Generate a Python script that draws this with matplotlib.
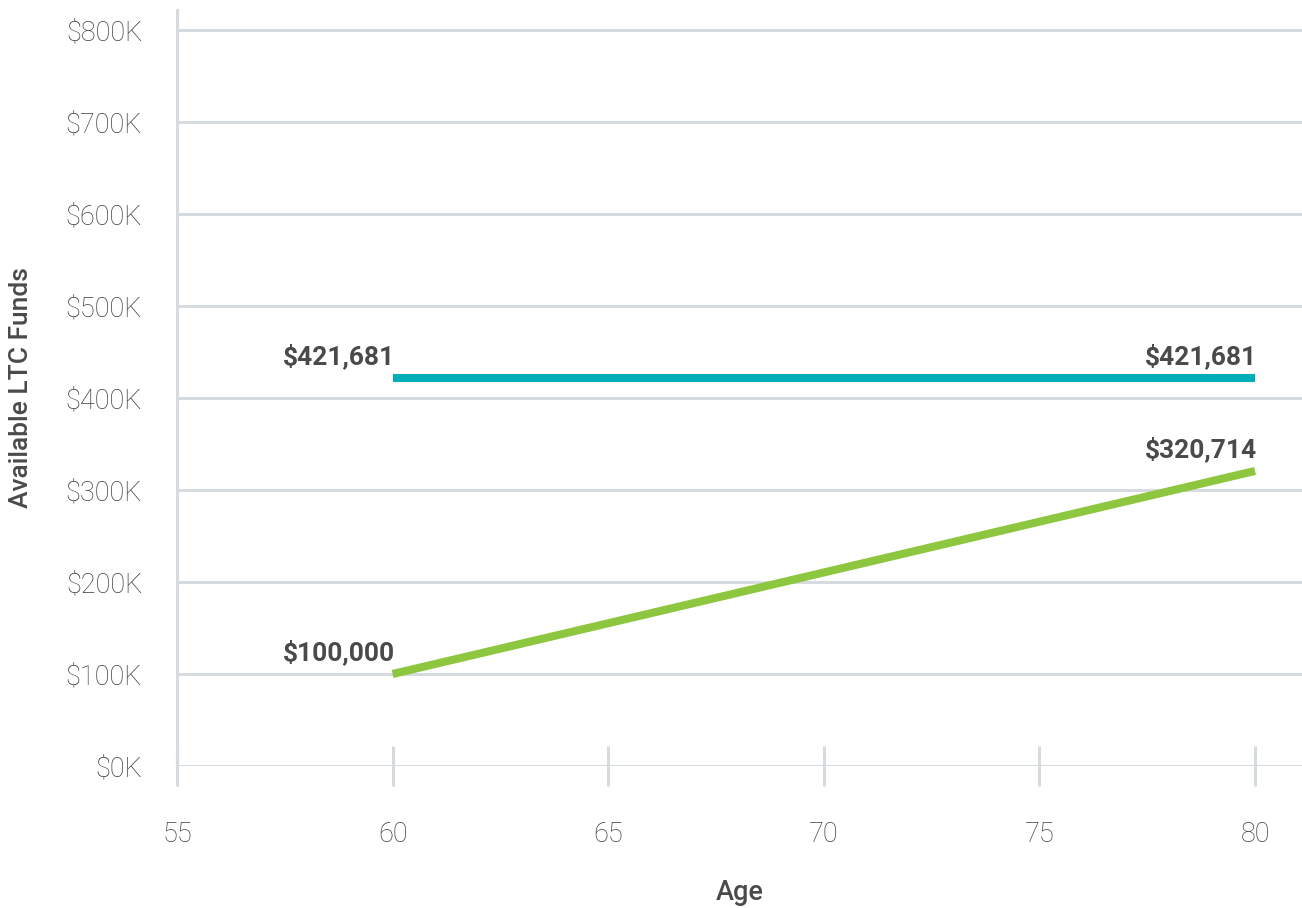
import matplotlib
matplotlib.use("Agg")
import matplotlib.pyplot as plt
from matplotlib.ticker import FuncFormatter

ages = [60, 80]
ltc_policy = [421681, 421681]
self_fund = [100000, 320714]
x_ticks = [55, 60, 65, 70, 75, 80]
y_ticks = [0, 100000, 200000, 300000, 400000, 500000, 600000, 700000, 800000]

teal = "#00AEB8"
green = "#8DC63F"
grid_c = "#D6DBE0"
tick_c = "#3F3F3F"
label_c = "#4A4A4A"

plt.rcParams['font.family'] = ['Roboto', 'DejaVu Sans']

fig = plt.figure(figsize=(13.02, 9.08), dpi=100)
ax = fig.add_axes([177/1302, 142/908, 1 - 177/1302, (766-10)/908])

ax.set_xlim(55, 55 + (1302-177)/215.6*5)
ax.set_ylim(0, 800000 + 20/91.9*100000)

ax.set_yticks(y_ticks)
ax.set_xticks(x_ticks)
ax.yaxis.set_major_formatter(FuncFormatter(lambda v, p: f"${int(v/1000)}K"))
ax.grid(axis='y', color=grid_c, linewidth=2.2)
ax.set_axisbelow(True)
for s in ['top', 'right', 'bottom']:
    ax.spines[s].set_visible(False)
ax.spines['left'].set_color(grid_c)
ax.spines['left'].set_linewidth(2.2)

ax.tick_params(axis='y', length=0, pad=25, labelsize=19.5, labelcolor=tick_c)
ax.tick_params(axis='x', direction='inout', length=29.5, width=2.2, color=grid_c,
               pad=25, labelsize=19.5, labelcolor=tick_c)
for lab in ax.get_xticklabels() + ax.get_yticklabels():
    lab.set_fontweight('light')

ax.plot(ages, ltc_policy, color=teal, linewidth=5.8, solid_capstyle='butt', zorder=3)
ax.plot(ages, self_fund, color=green, linewidth=5.8, solid_capstyle='butt', zorder=3)

for xs, ys in [(ages, ltc_policy), (ages, self_fund)]:
    for xv, yv in zip(xs, ys):
        ax.annotate(f"${yv:,.0f}", (xv, yv), xytext=(1.5, 10), textcoords='offset points',
                    ha='right', va='baseline', fontsize=19, fontweight='bold', color=label_c)

ax.set_xlabel("Age", fontsize=19.5, fontweight='medium', color=label_c, labelpad=22)
ax.set_ylabel("Available LTC Funds", fontsize=19, fontweight='medium', color=label_c)
ax.yaxis.set_label_coords(-(177-33)/1125, 0.5)

fig.savefig("out.png", dpi=100, facecolor='white')
